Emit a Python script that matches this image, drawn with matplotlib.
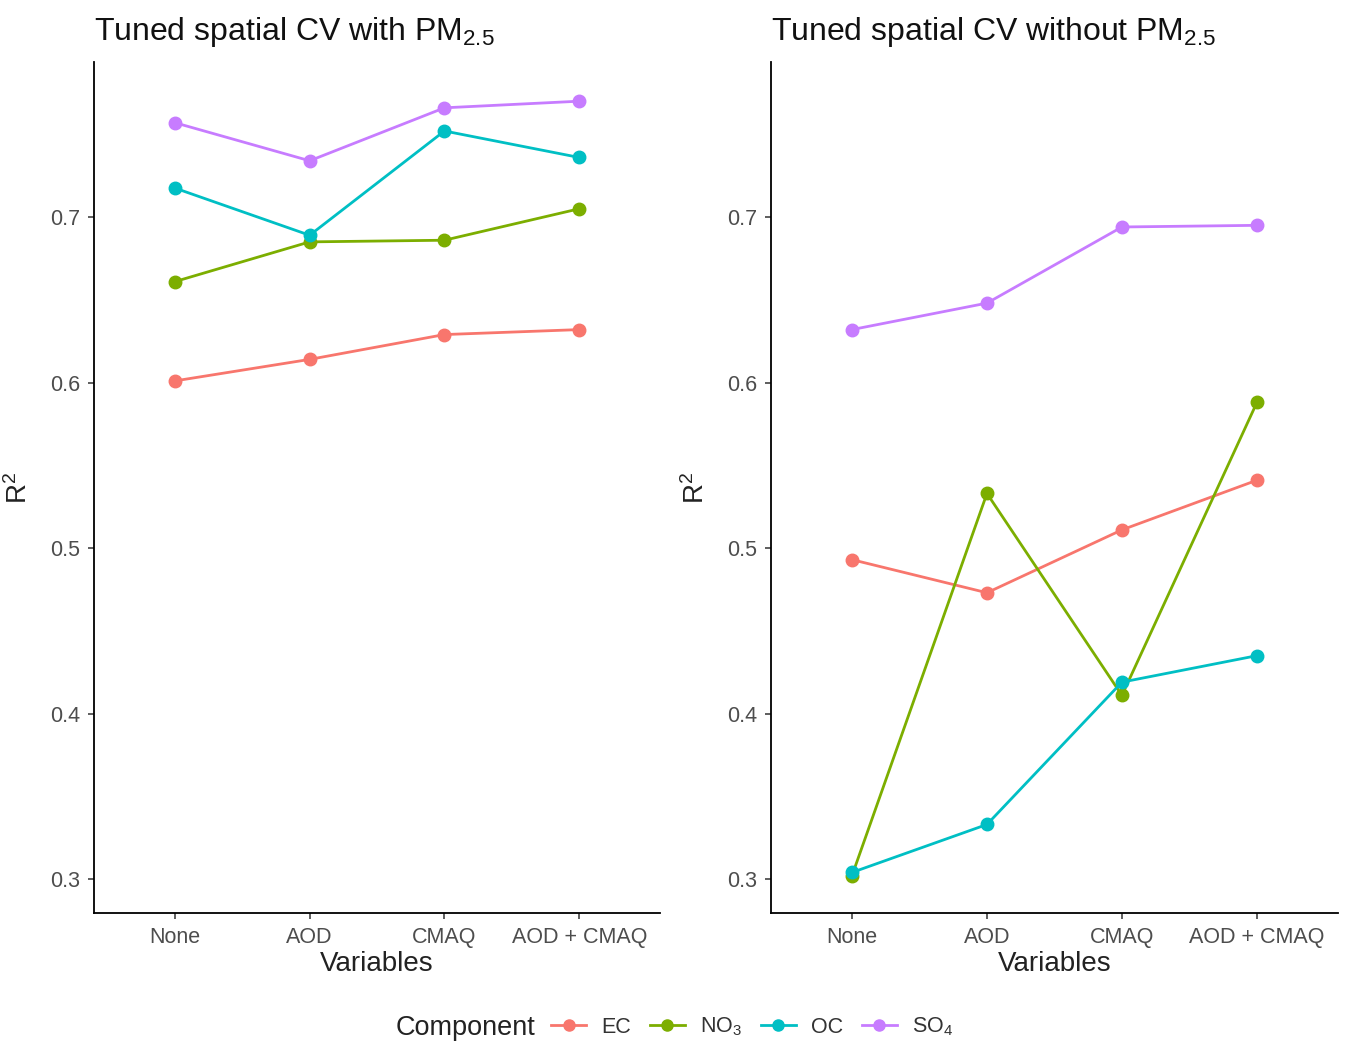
import numpy as np
import matplotlib
matplotlib.use('Agg')
import matplotlib.pyplot as plt
from matplotlib.lines import Line2D

plt.rcParams['font.family'] = ['Liberation Sans', 'DejaVu Sans']
plt.rcParams['mathtext.fontset'] = 'custom'
plt.rcParams['mathtext.rm'] = 'Liberation Sans'
plt.rcParams['mathtext.it'] = 'Liberation Sans:italic'
plt.rcParams['mathtext.bf'] = 'Liberation Sans:bold'

# data
variables = ['None', 'AOD', 'CMAQ', 'AOD + CMAQ']
components = ['EC', 'NO$_3$', 'OC', 'SO$_4$']
colors = ['#F8766D', '#7CAE00', '#00BFC4', '#C77CFF']

with_pm = {
    'EC': [0.601, 0.614, 0.629, 0.632],
    'NO3': [0.661, 0.685, 0.686, 0.705],
    'OC': [0.7175, 0.689, 0.752, 0.736],
    'SO4': [0.757, 0.734, 0.766, 0.770],
}
without_pm = {
    'EC': [0.493, 0.473, 0.511, 0.541],
    'NO3': [0.302, 0.533, 0.411, 0.588],
    'OC': [0.304, 0.333, 0.419, 0.435],
    'SO4': [0.632, 0.648, 0.694, 0.695],
}
keys = ['EC', 'NO3', 'OC', 'SO4']
titles = ['Tuned spatial CV with PM$_{2.5}$', 'Tuned spatial CV without PM$_{2.5}$']

fig = plt.figure(figsize=(13.49, 10.45), dpi=100)
ax1 = fig.add_axes([0.0697, 0.1263, 0.4196, 0.8144])
ax2 = fig.add_axes([0.5715, 0.1263, 0.4203, 0.8144])

x = np.arange(len(variables))
for ax, data, title in zip([ax1, ax2], [with_pm, without_pm], titles):
    for k, c in zip(keys, colors):
        ax.plot(x, data[k], color=c, lw=2, marker='o', ms=9)
    ax.set_xlim(-0.6, 3.6)
    ax.set_ylim(0.2795, 0.7937)
    ax.set_xticks(x)
    ax.set_xticklabels(variables)
    ax.set_yticks([0.3, 0.4, 0.5, 0.6, 0.7])
    ax.set_yticklabels(['0.3', '0.4', '0.5', '0.6', '0.7'])
    ax.spines['top'].set_visible(False)
    ax.spines['right'].set_visible(False)
    for s in ['left', 'bottom']:
        ax.spines[s].set_linewidth(1.3)
        ax.spines[s].set_color('black')
    ax.tick_params(axis='both', direction='out', length=4, width=1.1,
                   color='#333333', labelcolor='#4D4D4D', labelsize=15.5, pad=6)
    ax.set_xlabel('Variables', fontsize=20, color='#222222', labelpad=2)
    ax.set_ylabel('R$^2$', fontsize=20, color='#222222', labelpad=12)
    ax.set_title(title, fontsize=23, loc='left', x=0.0, pad=16, color='#111111')

handles = [Line2D([0], [0], color=c, lw=2, marker='o', ms=8) for c in colors]
fig.text(0.293, 0.004, 'Component', fontsize=19.5, color='#222222', va='bottom')
fig.legend(handles, components, loc='lower left', bbox_to_anchor=(0.394, -0.012),
           ncol=4, frameon=False, fontsize=15.5, handlelength=1.65, columnspacing=0.85,
           handletextpad=0.7, labelcolor='#333333')

fig.savefig('out.png', dpi=100)
